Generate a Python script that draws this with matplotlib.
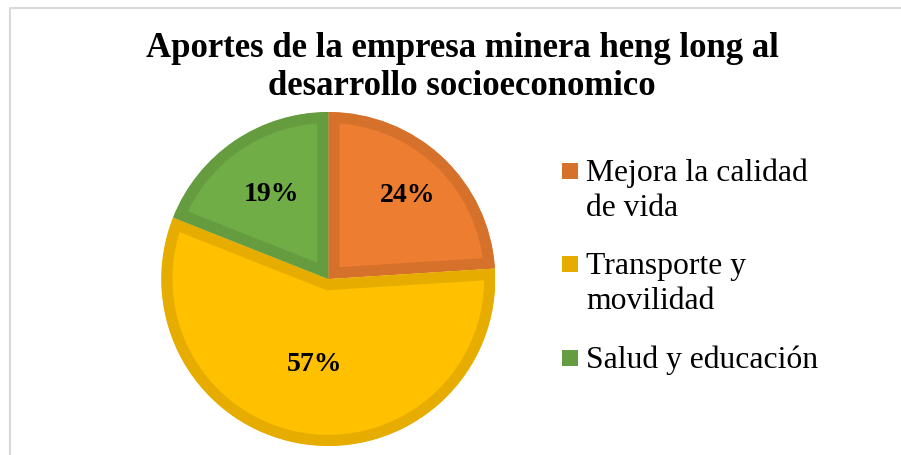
import matplotlib
matplotlib.use('Agg')
import matplotlib.pyplot as plt
from matplotlib.lines import Line2D
from matplotlib.patches import Rectangle
import numpy as np

categories = ['Mejora la calidad\nde vida', 'Transporte y\nmovilidad', 'Salud y educación']
values = [24, 57, 19]
fill_colors = ['#ED7D31', '#FFC000', '#70AD47']
edge_colors = ['#D6712C', '#E6AD00', '#659C40']
label_dist = [0.69, 0.52, 0.61]
title_lines = ['Aportes de la empresa minera heng long al', 'desarrollo socioeconomico']

W, H = 901, 455
plt.rcParams['font.family'] = ['Liberation Serif', 'DejaVu Serif']

fig = plt.figure(figsize=(W / 100, H / 100), dpi=100)


def px(x, y):
    # pixel coords (from top-left) -> figure fraction
    return x / W, 1 - y / H


# pie axes: center (328, 279), radius 167 px
cx, cy, r = 328.3, 279.0, 167.0
ax = fig.add_axes([(cx - r) / W, (H - cy - r) / H, 2 * r / W, 2 * r / H])
wedges, _ = ax.pie(values, colors=fill_colors, startangle=90, counterclock=False,
                   radius=1.0)
for w, ec in zip(wedges, edge_colors):
    # inner stroke: double width, clipped to the wedge itself
    w.set_edgecolor(ec)
    w.set_linewidth(16)
    w.set_clip_on(True)
    w.set_clip_path(w)
ax.set_xlim(-1, 1)
ax.set_ylim(-1, 1)
ax.set_aspect('equal')
ax.axis('off')

# percentage labels
total = sum(values)
for w, v, d in zip(wedges, values, label_dist):
    ang = np.deg2rad((w.theta1 + w.theta2) / 2)
    ax.text(d * np.cos(ang), d * np.sin(ang), f'{round(v / total * 100)}%',
            ha='center', va='center', fontsize=20, fontweight='bold', color='black')

# title, one text per line
for line, yb in zip(title_lines, [57, 95]):
    tx, ty = px(462, yb)
    fig.text(tx, ty, line, ha='center', va='baseline', fontsize=25, fontweight='bold')

# legend drawn by hand so the marker sits on the first line
legend_y = [181, 274, 368]
for lab, ec, yb in zip(categories, edge_colors, legend_y):
    x0, y0 = px(562, yb - 2)
    fig.patches.append(Rectangle((x0, y0), 16 / W, 16 / H, transform=fig.transFigure,
                                 facecolor=ec, edgecolor='none'))
    for i, line in enumerate(lab.split('\n')):
        lx, ly = px(586, yb + 35 * i)
        fig.text(lx, ly, line, ha='left', va='baseline', fontsize=22.8)

# chart-area border (only top and left are visible)
bx, by = px(9.5, 7.5)
fig.add_artist(Line2D([bx, bx, 1.01], [-0.01, by, by], transform=fig.transFigure,
                      color='#D9D9D9', lw=1.5))

fig.savefig('out.png', dpi=100)
